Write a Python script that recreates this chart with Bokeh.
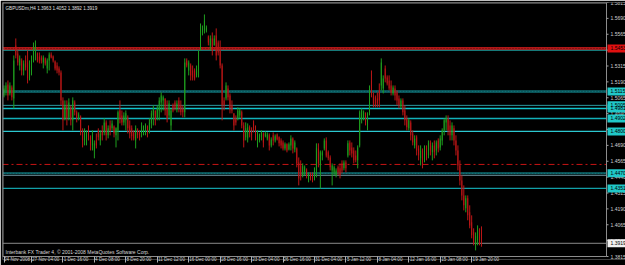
from bokeh.plotting import figure
from bokeh.models import Range1d, FixedTicker, Label, CustomJSTickFormatter, ColumnDataSource
from bokeh.embed import file_html
from bokeh.resources import INLINE

# ---------------- data (GBPUSDm, H4) ----------------
opens = [
    1.5083, 1.5123, 1.5170, 1.5099, 1.5146, 1.5060, 1.5477, 1.5414, 1.5319, 1.5359,
    1.5280, 1.5359, 1.5343, 1.5225, 1.5319, 1.5375, 1.5438, 1.5414, 1.5390, 1.5382,
    1.5343, 1.5375, 1.5296, 1.5359, 1.5406, 1.5390, 1.5351, 1.5319, 1.5296, 1.5264,
    1.5044, 1.4902, 1.5005, 1.4910, 1.4989, 1.4887, 1.5028, 1.4950, 1.4902, 1.4918,
    1.4808, 1.4729, 1.4745, 1.4808, 1.4753, 1.4690, 1.4650, 1.4729, 1.4808, 1.4729,
    1.4808, 1.4792, 1.4871, 1.4769, 1.4847, 1.4824, 1.4839, 1.4769, 1.4808, 1.4965,
    1.4926, 1.4871, 1.4887, 1.4910, 1.4847, 1.4824, 1.4792, 1.4729, 1.4808, 1.4792,
    1.4784, 1.4808, 1.4824, 1.4839, 1.4808, 1.4863, 1.4926, 1.4965, 1.4910, 1.4965,
    1.5028, 1.5044, 1.5060, 1.4981, 1.4926, 1.4847, 1.5005, 1.5028, 1.4973, 1.5044,
    1.5005, 1.4981, 1.4950, 1.5359, 1.5280, 1.5319, 1.5280, 1.5280, 1.5241, 1.5280,
    1.5453, 1.5579, 1.5595, 1.5595, 1.5548, 1.5477, 1.5532, 1.5477, 1.5556, 1.5500,
    1.5438, 1.5319, 1.5044, 1.5060, 1.5138, 1.5083, 1.5005, 1.4942, 1.4902, 1.4902,
    1.4926, 1.4950, 1.4847, 1.4753, 1.4745, 1.4832, 1.4808, 1.4863, 1.4824, 1.4729,
    1.4729, 1.4753, 1.4784, 1.4761, 1.4745, 1.4769, 1.4690, 1.4769, 1.4729, 1.4776,
    1.4753, 1.4729, 1.4713, 1.4666, 1.4698, 1.4658, 1.4690, 1.4745, 1.4658, 1.4666,
    1.4556, 1.4532, 1.4454, 1.4477, 1.4501, 1.4422, 1.4470, 1.4454, 1.4430, 1.4493,
    1.4666, 1.4532, 1.4611, 1.4666, 1.4729, 1.4635, 1.4595, 1.4493, 1.4477, 1.4454,
    1.4517, 1.4509, 1.4548, 1.4509, 1.4556, 1.4611, 1.4713, 1.4674, 1.4650, 1.4611,
    1.4572, 1.4690, 1.4902, 1.4902, 1.4942, 1.4847, 1.4950, 1.5201, 1.5083, 1.5068,
    1.5060, 1.5123, 1.5162, 1.5138, 1.5296, 1.5225, 1.5201, 1.5162, 1.5099, 1.5138,
    1.5107, 1.5060, 1.4997, 1.5044, 1.4965, 1.4902, 1.4824, 1.4871, 1.4784, 1.4690,
    1.4753, 1.4666, 1.4588, 1.4650, 1.4588, 1.4674, 1.4611, 1.4713, 1.4635, 1.4690,
    1.4650, 1.4729, 1.4674, 1.4729, 1.4808, 1.4871, 1.4902, 1.4847, 1.4769, 1.4824,
    1.4729, 1.4650, 1.4532, 1.4414, 1.4296, 1.4194, 1.4273, 1.4163, 1.4084, 1.4005,
    1.3903, 1.3942, 1.4005, 1.3963,
]
highs = [
    1.5162, 1.5186, 1.5201, 1.5186, 1.5162, 1.5398, 1.5532, 1.5438, 1.5398, 1.5375,
    1.5359, 1.5398, 1.5438, 1.5359, 1.5398, 1.5500, 1.5516, 1.5422, 1.5422, 1.5398,
    1.5398, 1.5382, 1.5375, 1.5422, 1.5422, 1.5398, 1.5359, 1.5343, 1.5312, 1.5280,
    1.5068, 1.5044, 1.5044, 1.5060, 1.5005, 1.5068, 1.5044, 1.4965, 1.4950, 1.4926,
    1.4824, 1.4824, 1.4808, 1.4847, 1.4769, 1.4808, 1.4729, 1.4784, 1.4824, 1.4808,
    1.4847, 1.4902, 1.4887, 1.4847, 1.4887, 1.4887, 1.4847, 1.4832, 1.4965, 1.5044,
    1.4965, 1.4950, 1.4965, 1.4926, 1.4887, 1.4847, 1.4808, 1.4847, 1.4824, 1.4808,
    1.4871, 1.4847, 1.4863, 1.4847, 1.4902, 1.4965, 1.5005, 1.4965, 1.5005, 1.5068,
    1.5107, 1.5083, 1.5060, 1.5044, 1.5044, 1.4981, 1.5020, 1.5044, 1.5044, 1.5068,
    1.5044, 1.5005, 1.5375, 1.5375, 1.5359, 1.5335, 1.5319, 1.5296, 1.5319, 1.5438,
    1.5650, 1.5634, 1.5721, 1.5634, 1.5556, 1.5556, 1.5579, 1.5556, 1.5611, 1.5516,
    1.5516, 1.5335, 1.5068, 1.5186, 1.5162, 1.5099, 1.5044, 1.4942, 1.4926, 1.4989,
    1.4981, 1.4965, 1.4871, 1.4871, 1.4863, 1.4847, 1.4832, 1.4887, 1.4847, 1.4808,
    1.4784, 1.4808, 1.4792, 1.4800, 1.4792, 1.4784, 1.4753, 1.4792, 1.4776, 1.4784,
    1.4761, 1.4745, 1.4729, 1.4713, 1.4706, 1.4713, 1.4769, 1.4753, 1.4729, 1.4674,
    1.4595, 1.4572, 1.4548, 1.4532, 1.4509, 1.4477, 1.4477, 1.4477, 1.4517, 1.4706,
    1.4706, 1.4650, 1.4650, 1.4745, 1.4753, 1.4650, 1.4611, 1.4548, 1.4532, 1.4509,
    1.4532, 1.4548, 1.4572, 1.4572, 1.4572, 1.4729, 1.4729, 1.4713, 1.4674, 1.4650,
    1.4690, 1.4965, 1.4981, 1.4965, 1.4950, 1.4950, 1.5162, 1.5280, 1.5107, 1.5083,
    1.5107, 1.5178, 1.5375, 1.5241, 1.5319, 1.5241, 1.5241, 1.5201, 1.5162, 1.5162,
    1.5123, 1.5083, 1.5060, 1.5060, 1.5005, 1.4926, 1.4902, 1.4887, 1.4808, 1.4769,
    1.4769, 1.4690, 1.4690, 1.4666, 1.4690, 1.4690, 1.4729, 1.4729, 1.4713, 1.4729,
    1.4729, 1.4745, 1.4769, 1.4824, 1.4902, 1.4926, 1.4926, 1.4887, 1.4871, 1.4847,
    1.4769, 1.4690, 1.4572, 1.4454, 1.4375, 1.4296, 1.4296, 1.4218, 1.4139, 1.4037,
    1.4005, 1.4060, 1.4037, 1.4052,
]
lows = [
    1.5068, 1.5083, 1.5044, 1.5083, 1.5044, 1.4981, 1.5375, 1.5319, 1.5280, 1.5241,
    1.5241, 1.5280, 1.5178, 1.5201, 1.5241, 1.5343, 1.5359, 1.5343, 1.5335, 1.5335,
    1.5296, 1.5319, 1.5257, 1.5280, 1.5375, 1.5343, 1.5280, 1.5257, 1.5241, 1.5005,
    1.4808, 1.4887, 1.4847, 1.4887, 1.4847, 1.4808, 1.4926, 1.4871, 1.4887, 1.4769,
    1.4674, 1.4690, 1.4690, 1.4729, 1.4650, 1.4650, 1.4588, 1.4666, 1.4729, 1.4690,
    1.4729, 1.4769, 1.4729, 1.4745, 1.4769, 1.4808, 1.4753, 1.4674, 1.4729, 1.4863,
    1.4847, 1.4847, 1.4808, 1.4784, 1.4745, 1.4729, 1.4729, 1.4666, 1.4745, 1.4729,
    1.4753, 1.4769, 1.4769, 1.4753, 1.4784, 1.4824, 1.4847, 1.4847, 1.4887, 1.4887,
    1.4950, 1.4965, 1.4926, 1.4871, 1.4902, 1.4808, 1.4950, 1.4965, 1.4950, 1.4950,
    1.4926, 1.4910, 1.4910, 1.5304, 1.5241, 1.5201, 1.5201, 1.5201, 1.5225, 1.5225,
    1.5438, 1.5556, 1.5571, 1.5579, 1.5477, 1.5438, 1.5398, 1.5477, 1.5359, 1.5398,
    1.5296, 1.4887, 1.4965, 1.5044, 1.5044, 1.4942, 1.4942, 1.4808, 1.4847, 1.4887,
    1.4902, 1.4824, 1.4674, 1.4729, 1.4713, 1.4753, 1.4729, 1.4792, 1.4729, 1.4674,
    1.4713, 1.4729, 1.4674, 1.4753, 1.4729, 1.4650, 1.4674, 1.4690, 1.4713, 1.4729,
    1.4682, 1.4666, 1.4650, 1.4650, 1.4635, 1.4650, 1.4650, 1.4627, 1.4635, 1.4517,
    1.4375, 1.4414, 1.4438, 1.4454, 1.4430, 1.4399, 1.4414, 1.4399, 1.4414, 1.4438,
    1.4517, 1.4351, 1.4572, 1.4650, 1.4595, 1.4572, 1.4493, 1.4375, 1.4454, 1.4438,
    1.4454, 1.4430, 1.4470, 1.4493, 1.4477, 1.4595, 1.4611, 1.4595, 1.4548, 1.4556,
    1.4509, 1.4674, 1.4863, 1.4887, 1.4847, 1.4808, 1.4926, 1.5068, 1.4989, 1.4989,
    1.4989, 1.4989, 1.5123, 1.5099, 1.5186, 1.5162, 1.5123, 1.5083, 1.5083, 1.5044,
    1.5005, 1.4981, 1.4981, 1.4926, 1.4847, 1.4808, 1.4808, 1.4729, 1.4690, 1.4666,
    1.4611, 1.4572, 1.4532, 1.4509, 1.4556, 1.4572, 1.4588, 1.4611, 1.4572, 1.4588,
    1.4611, 1.4635, 1.4650, 1.4690, 1.4769, 1.4808, 1.4769, 1.4729, 1.4729, 1.4690,
    1.4611, 1.4493, 1.4375, 1.4257, 1.4178, 1.4163, 1.4100, 1.4037, 1.3958, 1.3903,
    1.3863, 1.3903, 1.3903, 1.3892,
]
closes = [
    1.5138, 1.5162, 1.5083, 1.5162, 1.5068, 1.5359, 1.5398, 1.5343, 1.5375, 1.5280,
    1.5335, 1.5304, 1.5217, 1.5319, 1.5375, 1.5477, 1.5477, 1.5359, 1.5351, 1.5359,
    1.5382, 1.5335, 1.5359, 1.5406, 1.5382, 1.5359, 1.5296, 1.5280, 1.5264, 1.5044,
    1.4887, 1.5005, 1.4902, 1.5028, 1.4887, 1.5044, 1.4950, 1.4902, 1.4934, 1.4808,
    1.4729, 1.4792, 1.4784, 1.4753, 1.4690, 1.4769, 1.4706, 1.4690, 1.4753, 1.4784,
    1.4769, 1.4871, 1.4769, 1.4824, 1.4808, 1.4863, 1.4784, 1.4824, 1.4950, 1.4902,
    1.4871, 1.4926, 1.4942, 1.4824, 1.4784, 1.4761, 1.4745, 1.4824, 1.4769, 1.4753,
    1.4847, 1.4832, 1.4855, 1.4792, 1.4871, 1.4942, 1.4981, 1.4887, 1.4981, 1.5044,
    1.5083, 1.5068, 1.4965, 1.4902, 1.5020, 1.4965, 1.4965, 1.4981, 1.5020, 1.4981,
    1.4950, 1.4950, 1.5343, 1.5319, 1.5343, 1.5241, 1.5225, 1.5217, 1.5296, 1.5422,
    1.5611, 1.5611, 1.5674, 1.5619, 1.5500, 1.5532, 1.5438, 1.5532, 1.5398, 1.5422,
    1.5319, 1.5005, 1.5005, 1.5162, 1.5068, 1.4981, 1.4965, 1.4847, 1.4871, 1.4965,
    1.4965, 1.4847, 1.4729, 1.4824, 1.4832, 1.4784, 1.4769, 1.4824, 1.4753, 1.4784,
    1.4769, 1.4792, 1.4713, 1.4784, 1.4776, 1.4690, 1.4737, 1.4729, 1.4761, 1.4737,
    1.4706, 1.4690, 1.4666, 1.4698, 1.4650, 1.4698, 1.4745, 1.4666, 1.4713, 1.4548,
    1.4430, 1.4446, 1.4525, 1.4517, 1.4446, 1.4462, 1.4430, 1.4414, 1.4493, 1.4674,
    1.4548, 1.4635, 1.4635, 1.4729, 1.4611, 1.4588, 1.4517, 1.4532, 1.4517, 1.4493,
    1.4477, 1.4454, 1.4493, 1.4556, 1.4509, 1.4706, 1.4650, 1.4627, 1.4572, 1.4572,
    1.4674, 1.4950, 1.4965, 1.4950, 1.4871, 1.4926, 1.5138, 1.5083, 1.5020, 1.5005,
    1.5020, 1.5044, 1.5343, 1.5217, 1.5217, 1.5178, 1.5138, 1.5107, 1.5146, 1.5083,
    1.5044, 1.5005, 1.5044, 1.4950, 1.4887, 1.4832, 1.4887, 1.4769, 1.4713, 1.4745,
    1.4650, 1.4611, 1.4650, 1.4572, 1.4666, 1.4611, 1.4706, 1.4650, 1.4690, 1.4635,
    1.4713, 1.4666, 1.4745, 1.4808, 1.4887, 1.4902, 1.4808, 1.4769, 1.4847, 1.4729,
    1.4650, 1.4532, 1.4414, 1.4296, 1.4218, 1.4273, 1.4139, 1.4060, 1.3982, 1.3926,
    1.3974, 1.4021, 1.3958, 1.3919,
]

# time axis: bar index of each labelled bar and its label
x_tick_bars = [0, 14, 30, 46, 62, 78, 94, 110, 126, 142, 158, 174, 190, 206, 222, 238]
x_tick_labels = ["24 Nov 2008", "27 Nov 04:00", "1 Dec 16:00", "4 Dec 08:00",
                 "8 Dec 20:00", "11 Dec 12:00", "16 Dec 00:00", "18 Dec 16:00",
                 "23 Dec 04:00", "26 Dec 16:00", "31 Dec 04:00", "5 Jan 12:00",
                 "8 Jan 04:00", "12 Jan 16:00", "15 Jan 08:00", "19 Jan 20:00"]

# price scale ticks
y_ticks = [1.3815, 1.3940, 1.4065, 1.4190, 1.4315, 1.4440, 1.4565, 1.4690, 1.4815,
           1.4940, 1.5065, 1.5190, 1.5315, 1.5440, 1.5565, 1.5690, 1.5815]

# horizontal levels drawn on the chart
level_prices = [1.5453, 1.5438, 1.5115, 1.5005, 1.4981, 1.4902, 1.4800,
                1.4540, 1.4470, 1.4454, 1.4351, 1.3919]
level_colors = ["#b01818", "#1a8a8a", "#0f6f74", "#2a9aa0", "#10c4cc", "#12b0b8",
                "#2cc8d0", "#c81414", "#0f6f74", "#6a8c98", "#12a0a8", "#8a8a8a"]
level_widths = [3, 1, 2.5, 1, 1.5, 1.5, 1.2, 1, 2, 1, 1.2, 1]
level_dashes = ["solid", "solid", "solid", "solid", "solid", "solid", "solid",
                "6 3 2 3", "solid", "solid", "solid", "solid"]

# price boxes on the right scale
box_prices = [1.5453, 1.5115, 1.5005, 1.4981, 1.4902, 1.4800, 1.4470, 1.4351, 1.3919]
box_colors = ["#e01010", "#20c8c8", "#20c8c8", "#20c8c8", "#20c8c8", "#20c8c8",
              "#20c8c8", "#20c8c8", "#f0f0f0"]

title_text = "GBPUSDm,H4  1.3963 1.4052 1.3892 1.3919"
copyright_text = "Interbank FX Trader 4, \u00a9 2001-2008 MetaQuotes Software Corp."

# ---------------- figure ----------------
BULL = "#1e9e1e"
BEAR = "#bc1616"
FONT = "Liberation Sans"
TXT = "#d0d0d0"
GRID = "#8c8c8c"
BAR_PX = 1.965          # pixel distance between bars
FIRST_PX = 3.5          # pixel position of first bar
FRAME_L, CHART_R, W, H = 2, 606, 625, 265
PX = 1.0 / BAR_PX       # one pixel in bar units
PRICE_PX = 254 / (y_ticks[-1] - y_ticks[0])   # pixels per price unit
BELOW_PX = 3            # frame continues 3 px under the chart's bottom line

x0 = (FRAME_L - FIRST_PX) / BAR_PX
xR = x0 + (CHART_R - FRAME_L) / BAR_PX          # right edge of the chart area
xE = x0 + (W - FRAME_L) / BAR_PX                # right edge of the canvas
yb, yt = y_ticks[0], y_ticks[-1]

p = figure(width=W, height=H, x_range=Range1d(x0, xE),
           y_range=Range1d(yb - BELOW_PX / PRICE_PX, yt), title=None,
           y_axis_location=None, output_backend="svg", toolbar_location=None,
           background_fill_color="#000000", border_fill_color="#000000",
           min_border_left=FRAME_L, min_border_top=2, min_border_right=0,
           min_border_bottom=6)
p.grid.visible = False
p.outline_line_color = None

# levels (behind candles)
for pr, col, w, d in zip(level_prices, level_colors, level_widths, level_dashes):
    p.segment(x0=x0, y0=pr, x1=xR, y1=pr, line_color=col, line_width=w, line_dash=d)
for pr, col in [(level_prices[0], "#6a0808"), (level_prices[2], "#0a4448"),
                (level_prices[8], "#0a4448")]:
    p.segment(x0=x0, y0=pr, x1=xR, y1=pr, line_color=col, line_width=1, line_dash="1 2")

# candles
idx = list(range(len(opens)))
for is_up, col in [(True, BULL), (False, BEAR)]:
    sel = [i for i in idx if (closes[i] >= opens[i]) == is_up]
    src = ColumnDataSource(dict(
        x=sel,
        o=[opens[i] for i in sel], h=[highs[i] for i in sel],
        l=[lows[i] for i in sel], c=[closes[i] for i in sel]))
    p.segment(x0="x", y0="h", x1="x", y1="l", source=src, line_color=col, line_width=1)
    p.vbar(x="x", width=0.5, top="c", bottom="o", source=src,
           fill_color=col, line_color=None)

# chart border
p.segment(x0=[x0, x0, x0, xR], y0=[yt, yb, yb, yb], x1=[xR, xR, x0, xR], y1=[yt, yb, yt, yt],
          line_color=GRID, line_width=[2, 1, 2, 1])

# right price scale: tick marks, labels, then coloured price boxes
n = len(y_ticks)
p.segment(x0=[xR] * n, y0=y_ticks, x1=[xR + 2 * PX] * n, y1=y_ticks,
          line_color="#a0a0a0", line_width=1)
p.text(x=[xR] * n, y=y_ticks, text=[f"{t:.4f}" for t in y_ticks], x_offset=4,
       text_baseline="middle", text_align="left", text_font_size="5px",
       text_font={"value": FONT}, text_color=TXT)
m = len(box_prices)
half = 4 / PRICE_PX
p.quad(left=[xR + PX] * m, right=[xE] * m, top=[b + half for b in box_prices],
       bottom=[b - half for b in box_prices], fill_color=box_colors, line_color=None)
p.text(x=[xR] * m, y=box_prices, text=[f"{b:.4f}" for b in box_prices], x_offset=4,
       text_baseline="middle", text_align="left", text_font_size="5px",
       text_font={"value": FONT}, text_color="#000000")

# time scale: labels start just right of their tick mark
char_px = 2.2
label_centers = [b + (1 + char_px * len(t) / 2) / BAR_PX
                 for b, t in zip(x_tick_bars, x_tick_labels)]
xa = p.xaxis[0]
xa.ticker = FixedTicker(ticks=label_centers, minor_ticks=x_tick_bars)
xa.formatter = CustomJSTickFormatter(args=dict(labels=x_tick_labels),
                                     code="return labels[index]")
xa.major_label_text_font_size = "4.6px"
xa.major_label_text_font = FONT
xa.major_label_text_color = TXT
xa.major_label_standoff = -6
xa.axis_label_standoff = 0
xa.major_tick_out = 0
xa.major_tick_in = 0
xa.minor_tick_out = 3
xa.minor_tick_in = BELOW_PX
xa.minor_tick_line_color = "#b0b0b0"
xa.axis_line_color = None

# texts inside the chart
p.add_layout(Label(x=x0, y=yt, x_offset=3, y_offset=-8, text=title_text,
                   text_font_size="4.6px", text_font=FONT, text_color="#e0e0e0"))
p.add_layout(Label(x=x0, y=yb, x_offset=3, y_offset=2, text=copyright_text,
                   text_font_size="5px", text_font=FONT, text_color="#d8d8d8"))

open("out.html", "w").write(file_html(p, INLINE))
